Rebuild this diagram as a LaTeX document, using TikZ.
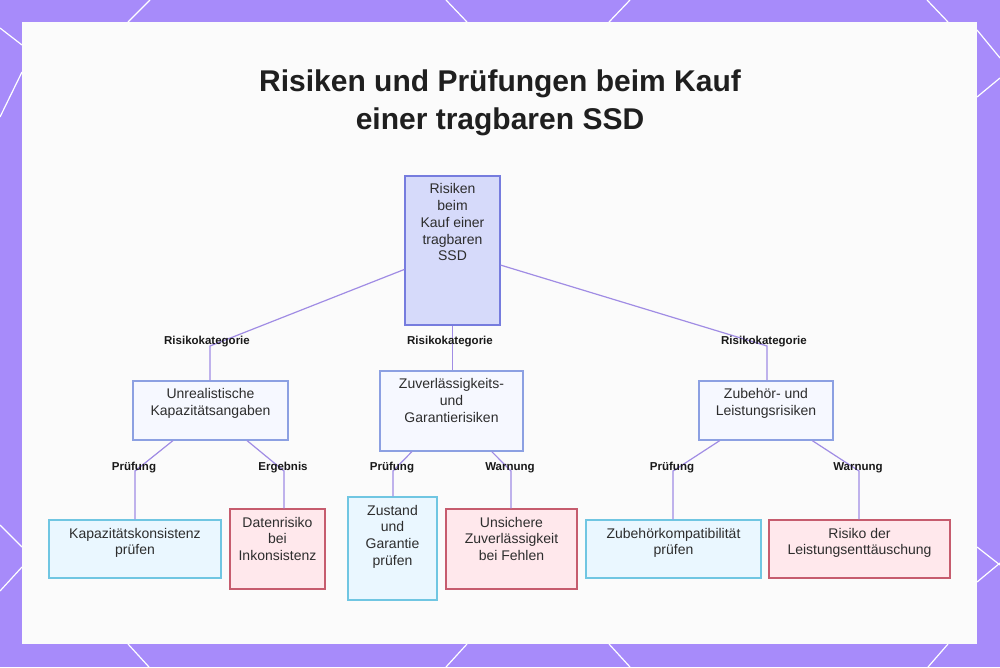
\documentclass[tikz,border=0pt]{standalone}
\usepackage{fontspec}
\setmainfont{Liberation Sans}
\usetikzlibrary{calc}
\definecolor{bgpurple}{RGB}{167,139,250}
\definecolor{panel}{RGB}{251,251,251}
\definecolor{conn}{RGB}{160,140,228}
\definecolor{rootfill}{RGB}{214,218,250}
\definecolor{rootdraw}{RGB}{118,124,222}
\definecolor{catfill}{RGB}{246,248,255}
\definecolor{catdraw}{RGB}{140,160,226}
\definecolor{chkfill}{RGB}{234,247,255}
\definecolor{chkdraw}{RGB}{112,198,226}
\definecolor{riskfill}{RGB}{255,232,236}
\definecolor{riskdraw}{RGB}{198,92,110}
\definecolor{txt}{RGB}{45,45,45}
\newcommand{\bxtext}[3]{\parbox[c][#2pt][t]{#1pt}{\centering\fontsize{14}{16.7}\selectfont\vspace*{6.3pt}\strut #3}}
\begin{document}
\begin{tikzpicture}[x=1pt,y=-1pt,
  boxbase/.style={line width=1.2pt, inner sep=0pt, text=txt},
  rootbox/.style={boxbase, draw=rootdraw, fill=rootfill},
  catbox/.style={boxbase, draw=catdraw, fill=catfill},
  chkbox/.style={boxbase, draw=chkdraw, fill=chkfill},
  riskbox/.style={boxbase, draw=riskdraw, fill=riskfill},
  lbl/.style={font=\bfseries\fontsize{11.5}{13}\selectfont, text=black!90, inner sep=0pt},
  link/.style={draw=conn, line width=1.2pt},
  deco/.style={draw=white, line width=1.2pt}]
\useasboundingbox (0,0) rectangle (1000,667);
% background
\fill[bgpurple] (0,0) rectangle (1000,667);
\draw[deco] (150,0) -- (128,22);
\draw[deco] (446,0) -- (467,22);
\draw[deco] (630,0) -- (609,22);
\draw[deco] (927,0) -- (948,22);
\draw[deco] (128,644) -- (149,667);
\draw[deco] (467,644) -- (446,667);
\draw[deco] (609,644) -- (630,667);
\draw[deco] (948,644) -- (928,667);
\draw[deco] (0,28) -- (22,45);
\draw[deco] (22,72) -- (0,117);
\draw[deco] (0,525) -- (22,547);
\draw[deco] (22,567) -- (0,591);
\draw[deco] (977,30) -- (1000,58);
\draw[deco] (1000,78) -- (977,97);
\draw[deco] (977,547) -- (1000,565);
\draw[deco] (1000,563) -- (977,582);
\fill[panel] (22,22) rectangle (977,644);
% title
\node[font=\bfseries\fontsize{30}{38}\selectfont, align=center, text=black!88] (title) at (500,103)
  {Risiken und Prüfungen beim Kauf\\einer tragbaren SSD};
% boxes
\node[rootbox] (root) at (452.5,250.5) {\bxtext{95}{149}{Risiken\\beim\\Kauf einer\\tragbaren\\SSD}};
\node[catbox] (cat1) at (210.5,410.5) {\bxtext{155}{59}{Unrealistische\\Kapazitätsangaben}};
\node[catbox] (cat2) at (451.5,411) {\bxtext{143}{80}{Zuverlässigkeits-\\und\\Garantierisiken}};
\node[catbox] (cat3) at (766,410.5) {\bxtext{134}{59}{Zubehör- und\\Leistungsrisiken}};
\node[chkbox] (leaf1) at (135,549) {\bxtext{172}{58}{Kapazitätskonsistenz\\prüfen}};
\node[riskbox] (leaf2) at (277.5,549) {\bxtext{95}{80}{Datenrisiko\\bei\\Inkonsistenz}};
\node[chkbox] (leaf3) at (392.5,548.5) {\bxtext{89}{103}{Zustand\\und\\Garantie\\prüfen}};
\node[riskbox] (leaf4) at (511.5,549) {\bxtext{131}{80}{Unsichere\\Zuverlässigkeit\\bei Fehlen}};
\node[chkbox] (leaf5) at (673.5,549) {\bxtext{175}{58}{Zubehörkompatibilität\\prüfen}};
\node[riskbox] (leaf6) at (859.5,549) {\bxtext{181}{58}{Risiko der\\Leistungsenttäuschung}};
% bend points
\coordinate (k1) at (210,346);
\coordinate (k3) at (767,346);
\coordinate (p1) at (135,471);
\coordinate (e1) at (284,471);
\coordinate (p2) at (393,471);
\coordinate (w2) at (511,471);
\coordinate (p3) at (673,471);
\coordinate (w3) at (859,471);
% connectors
\draw[link] (root) -- (k1) -- (k1 |- cat1.north);
\draw[link] (root.south) -- (root.south |- cat2.north);
\draw[link] (root) -- (k3) -- (k3 |- cat3.north);
\draw[link] (cat1) -- (p1) -- (p1 |- leaf1.north);
\draw[link] (cat1) -- (e1) -- (e1 |- leaf2.north);
\draw[link] (cat2) -- (p2) -- (p2 |- leaf3.north);
\draw[link] (cat2) -- (w2) -- (w2 |- leaf4.north);
\draw[link] (cat3) -- (p3) -- (p3 |- leaf5.north);
\draw[link] (cat3) -- (w3) -- (w3 |- leaf6.north);
% labels
\node[lbl] (l1) at (207,342) {Risikokategorie};
\node[lbl] (l2) at (450,342) {Risikokategorie};
\node[lbl] (l3) at (764,342) {Risikokategorie};
\node[lbl] (l4) at (134,468) {Prüfung};
\node[lbl] (l5) at (283,468) {Ergebnis};
\node[lbl] (l6) at (392,468) {Prüfung};
\node[lbl] (l7) at (510,468) {Warnung};
\node[lbl] (l8) at (672,468) {Prüfung};
\node[lbl] (l9) at (858,468) {Warnung};
\end{tikzpicture}
\end{document}
